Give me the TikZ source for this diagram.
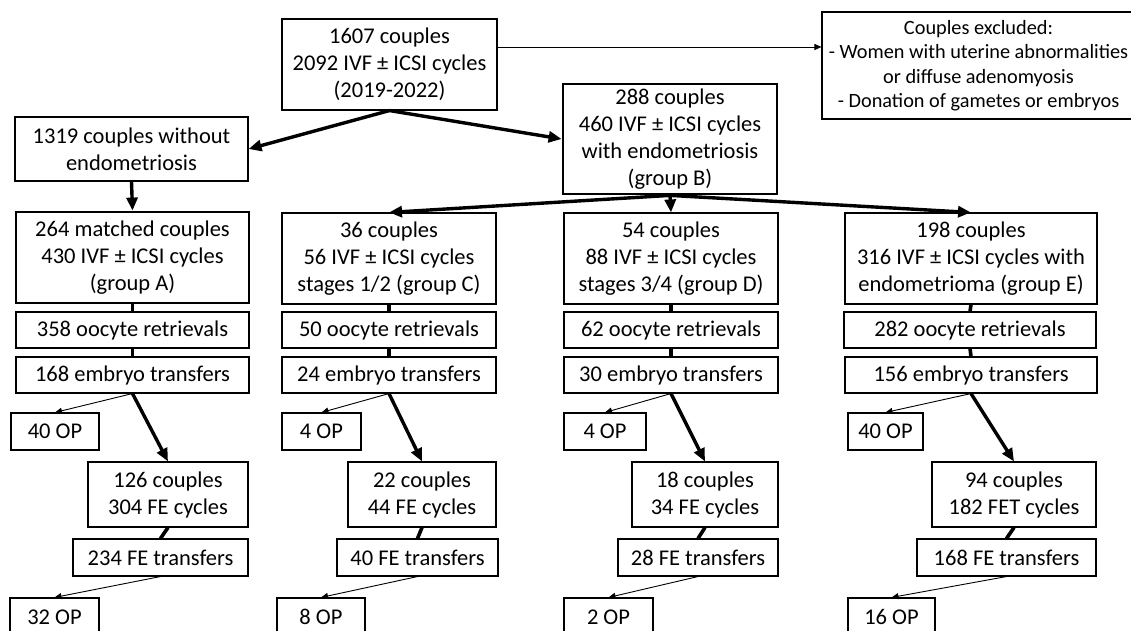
\documentclass[tikz,border=0pt]{standalone}
\usepackage{fontspec}
\setmainfont{Carlito}
\usetikzlibrary{arrows.meta}
\begin{document}
\begin{tikzpicture}[x=1pt,y=-1pt,
  box/.style={draw, line width=1.1pt, fill=white, align=center, inner sep=0pt, font=\fontsize{22.5}{27}\selectfont},
  heavybox/.style={box, line width=2.8pt},
  exbox/.style={box, font=\fontsize{20.3}{24.5}\selectfont},
  tharrow/.style={line width=3.4pt, -{Triangle[length=13pt,width=11pt]}},
  tnarrow/.style={line width=0.9pt, -{Triangle[length=7pt,width=6pt]}},
  thline/.style={line width=3.6pt}
]
\useasboundingbox (0,0) rectangle (1131,631);
\clip (0,0) rectangle (1131,631);
% top level
\node[box, minimum width=215pt, minimum height=91pt] (top) at (389.5,64.5) {1607 couples\\2092 IVF ± ICSI cycles\\(2019-2022)};
\node[exbox, minimum width=313pt, minimum height=107pt] (excl) at (978.5,65.5) {Couples excluded:\\- Women with uterine abnormalities\\or diffuse adenomyosis\\- Donation of gametes or embryos};
\node[box, minimum width=233pt, minimum height=64pt] (noendo) at (131.5,149) {1319 couples without\\endometriosis};
\node[heavybox, minimum width=214pt, minimum height=110pt] (grB) at (670,139) {288 couples\\460 IVF ± ICSI cycles\\with endometriosis\\(group B)};
% groups
\node[heavybox, minimum width=233pt, minimum height=91pt] (grA) at (132.5,257.5) {264 matched couples\\430 IVF ± ICSI cycles\\(group A)};
\node[box, minimum width=214pt, minimum height=91pt] (grC) at (389,258.5) {36 couples\\56 IVF ± ICSI cycles\\stages 1/2 (group C)};
\node[box, minimum width=214pt, minimum height=91pt] (grD) at (671,258.5) {54 couples\\88 IVF ± ICSI cycles\\stages 3/4 (group D)};
\node[box, minimum width=252pt, minimum height=91pt] (grE) at (971,258.5) {198 couples\\316 IVF ± ICSI cycles with\\endometrioma (group E)};
% oocyte retrievals
\node[box, minimum width=233pt, minimum height=36pt] (ooA) at (132.5,330) {358 oocyte retrievals};
\node[box, minimum width=214pt, minimum height=36pt] (ooC) at (389,330) {50 oocyte retrievals};
\node[box, minimum width=214pt, minimum height=36pt] (ooD) at (671,330) {62 oocyte retrievals};
\node[box, minimum width=252pt, minimum height=36pt] (ooE) at (970,330) {282 oocyte retrievals};
% embryo transfers
\node[box, minimum width=233pt, minimum height=36pt] (etA) at (132.5,375) {168 embryo transfers};
\node[box, minimum width=214pt, minimum height=36pt] (etC) at (389,375) {24 embryo transfers};
\node[box, minimum width=214pt, minimum height=36pt] (etD) at (671,375) {30 embryo transfers};
\node[box, minimum width=252pt, minimum height=36pt] (etE) at (971,375) {156 embryo transfers};
% OP first row
\node[box, minimum width=88pt, minimum height=37pt] (opA1) at (55,431.5) {40 OP};
\node[box, minimum width=79pt, minimum height=37pt] (opC1) at (321.5,431.5) {4 OP};
\node[box, minimum width=82pt, minimum height=37pt] (opD1) at (605,431.5) {4 OP};
\node[box, minimum width=75pt, minimum height=37pt] (opE1) at (885.5,431.5) {40 OP};
% FE couples
\node[box, minimum width=160pt, minimum height=65pt] (fcA) at (168,494.5) {126 couples\\304 FE cycles};
\node[box, minimum width=148pt, minimum height=65pt] (fcC) at (422,494.5) {22 couples\\44 FE cycles};
\node[box, minimum width=146pt, minimum height=65pt] (fcD) at (705,494.5) {18 couples\\34 FE cycles};
\node[box, minimum width=164pt, minimum height=65pt] (fcE) at (1014,494.5) {94 couples\\182 FET cycles};
% FE transfers
\node[box, minimum width=175pt, minimum height=37pt] (ftA) at (160.5,557.5) {234 FE transfers};
\node[box, minimum width=161pt, minimum height=37pt] (ftC) at (417.5,557.5) {40 FE transfers};
\node[box, minimum width=160pt, minimum height=37pt] (ftD) at (698,557.5) {28 FE transfers};
\node[box, minimum width=179pt, minimum height=37pt] (ftE) at (1006.5,557.5) {168 FE transfers};
% OP second row
\node[box, minimum width=89pt, minimum height=38pt] (opA2) at (54.5,617) {32 OP};
\node[box, minimum width=88pt, minimum height=38pt] (opC2) at (321,617) {8 OP};
\node[box, minimum width=89pt, minimum height=38pt] (opD2) at (608.5,617) {2 OP};
\node[box, minimum width=87pt, minimum height=38pt] (opE2) at (891.5,617) {16 OP};
% connectors
\coordinate (t1) at ([yshift=17.5pt]top.east);
\draw[tnarrow] (t1) -- (t1 -| excl.west);
\draw[tharrow] (top.south) -- (noendo.east);
\draw[tharrow] (top.south) -- (grB.west);
\draw[tharrow] (noendo.south) -- (grA.north);
\draw[tharrow] (grB.south) -- (grC.north);
\draw[tharrow] (grB.south) -- (grD.north);
\draw[tharrow] (grB.south) -- (grE.north);
\foreach \g in {A,C,D,E}{
  \draw[thline] (gr\g.south) -- (oo\g.north);
  \draw[thline] (oo\g.south) -- (et\g.north);
  \draw[tnarrow] (et\g.south) -- (op\g1.north);
  \draw[tharrow] (et\g.south) -- (fc\g.north);
  \draw[thline] (fc\g.south) -- (ft\g.north);
  \draw[tnarrow] (ft\g.south) -- (op\g2.north);
}
\end{tikzpicture}
\end{document}
